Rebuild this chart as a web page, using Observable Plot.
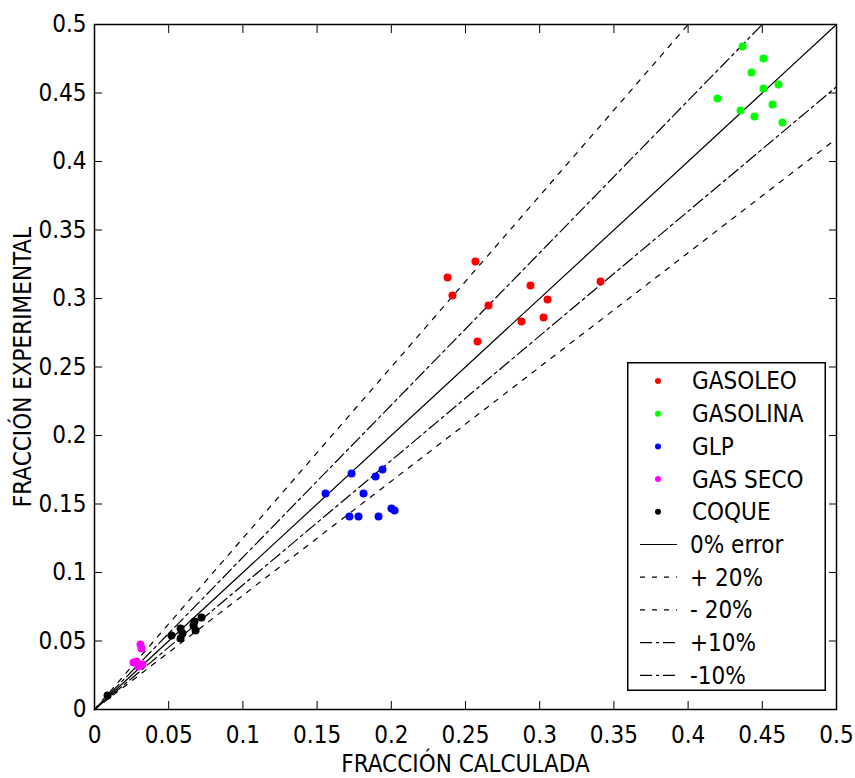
<!DOCTYPE html>
<html>
<head>
<meta charset="utf-8">
<script src="https://cdn.jsdelivr.net/npm/d3@7"></script>
<script src="https://cdn.jsdelivr.net/npm/@observablehq/plot@0.6"></script>
<style>
  body { margin: 0; background: #fff; }
  #wrap { position: relative; width: 855px; height: 778px; font-family: "Liberation Sans Narrow", "DejaVu Sans Condensed", "Liberation Sans", sans-serif; }
  #legend { position: absolute; left: 627px; top: 362px; }
</style>
</head>
<body>
<div id="wrap"></div>
<script>
// ---- data ----
const seriesNames = ["GASOLEO", "GASOLINA", "GLP", "GAS SECO", "COQUE"];
const seriesColors = ["#ff0000", "#00ff00", "#0000ff", "#ff00ff", "#000000"];

const gasoleoX = [0.2567, 0.2379, 0.2412, 0.2938, 0.2655, 0.3053, 0.2877, 0.3026, 0.2581, 0.3410];
const gasoleoY = [0.3270, 0.3153, 0.3022, 0.3095, 0.2949, 0.2993, 0.2832, 0.2861, 0.2686, 0.3124];

const gasolinaX = [0.4367, 0.4508, 0.4427, 0.4609, 0.4508, 0.4198, 0.4353, 0.4569, 0.4447, 0.4636];
const gasolinaY = [0.4839, 0.4752, 0.4650, 0.4562, 0.4533, 0.4460, 0.4372, 0.4416, 0.4328, 0.4285];

const glpX = [0.1732, 0.1557, 0.1894, 0.1941, 0.1813, 0.1718, 0.1779, 0.1914, 0.2001, 0.2022];
const glpY = [0.1723, 0.1577, 0.1701, 0.1752, 0.1577, 0.1409, 0.1409, 0.1409, 0.1467, 0.1453];

const gasSecoX = [0.0310, 0.0317, 0.0263, 0.0283, 0.0296, 0.0323];
const gasSecoY = [0.0474, 0.0445, 0.0343, 0.0350, 0.0314, 0.0328];

const coqueX = [0.0519, 0.0580, 0.0593, 0.0580, 0.0667, 0.0681, 0.0721, 0.0674, 0.0088];
const coqueY = [0.0540, 0.0591, 0.0555, 0.0518, 0.0613, 0.0577, 0.0672, 0.0642, 0.0102];

// reference lines: y = x * factor
const refNames = ["0% error", "+ 20%", "- 20%", "+10%", "-10%"];
const refFactors = [1, 1 / 0.8, 1 / 1.2, 1 / 0.9, 1 / 1.1];

const tickValues = [0, 0.05, 0.1, 0.15, 0.2, 0.25, 0.3, 0.35, 0.4, 0.45, 0.5];
const axisMax = 0.5;

// ---- build tables ----
const xs = [gasoleoX, gasolinaX, glpX, gasSecoX, coqueX];
const ys = [gasoleoY, gasolinaY, glpY, gasSecoY, coqueY];
const points = [];
seriesNames.forEach((name, s) => xs[s].forEach((x, i) => points.push({series: name, x, y: ys[s][i]})));

const refDash = ["none", "5,7", "5,7", "12,4,3,4", "12,4,3,4"];
const refLines = refNames.map((name, i) => {
  const k = refFactors[i];
  return [{x: 0, y: 0}, {x: Math.min(axisMax, axisMax / k), y: Math.min(axisMax, axisMax * k)}];
});

const FONT = `"Liberation Sans Narrow", "DejaVu Sans Condensed", "Liberation Sans", sans-serif`;
const fmt = d => String(d);

const chart = Plot.plot({
  width: 855,
  height: 778,
  marginLeft: 94,
  marginRight: 19,
  marginTop: 24,
  marginBottom: 69,
  style: {fontFamily: FONT, fontSize: "24px", color: "#000", background: "#fff"},
  x: {domain: [0, axisMax]},
  y: {domain: [0, axisMax]},
  color: {domain: seriesNames, range: seriesColors},
  marks: [
    ...refLines.map((seg, i) => Plot.line(seg, {x: "x", y: "y", stroke: "#000", strokeWidth: 1.2, strokeDasharray: refDash[i]})),
    Plot.dot(points, {x: "x", y: "y", fill: "series", r: 4, stroke: null}),
    Plot.axisX(tickValues, {anchor: "bottom", tickSize: -8, tickPadding: 24, tickFormat: fmt, fontSize: 24,
      label: "FRACCIÓN CALCULADA", labelAnchor: "center", labelOffset: 62, labelArrow: "none"}),
    Plot.axisX(tickValues, {anchor: "top", tickSize: -8, tickFormat: () => "", label: null}),
    Plot.axisY(tickValues, {anchor: "left", tickSize: -8, tickPadding: 16, tickFormat: fmt, fontSize: 24,
      label: "FRACCIÓN EXPERIMENTAL", labelAnchor: "center", labelOffset: 81, labelArrow: "none"}),
    Plot.axisY(tickValues, {anchor: "right", tickSize: -8, tickFormat: () => "", label: null}),
    Plot.frame({stroke: "#000", strokeWidth: 1.5})
  ]
});
document.getElementById("wrap").appendChild(chart);

// ---- legend (inside plot area) ----
const lw = 199, lh = 329;
const legend = d3.select("#wrap").append("svg")
  .attr("id", "legend").attr("width", lw).attr("height", lh)
  .style("font-family", FONT).style("font-size", "24px");
legend.append("rect").attr("x", 0.75).attr("y", 0.75).attr("width", lw - 1.5).attr("height", lh - 1.5)
  .attr("fill", "#fff").attr("stroke", "#000").attr("stroke-width", 1.5);
const rowY = i => 19 + i * 32.7;
seriesNames.forEach((name, i) => {
  legend.append("circle").attr("cx", 31).attr("cy", rowY(i)).attr("r", 3).attr("fill", seriesColors[i]);
  legend.append("text").attr("x", 65).attr("y", rowY(i)).attr("dy", "0.35em").text(name);
});
refNames.forEach((name, j) => {
  const i = j + seriesNames.length;
  legend.append("line").attr("x1", 13).attr("x2", 50).attr("y1", rowY(i)).attr("y2", rowY(i))
    .attr("stroke", "#000").attr("stroke-width", 1.2).attr("stroke-dasharray", refDash[j]);
  legend.append("text").attr("x", 63).attr("y", rowY(i)).attr("dy", "0.35em").text(name);
});
</script>
</body>
</html>
